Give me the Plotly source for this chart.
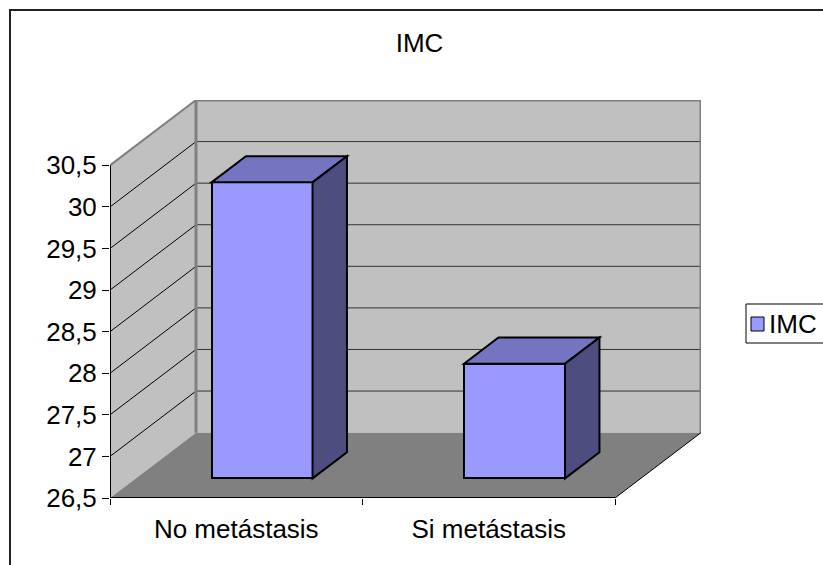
import plotly.graph_objects as go

# ---- data -------------------------------------------------------------
categories = ["No metástasis", "Si metástasis"]
imc_values = [30.06, 27.88]
series_name = "IMC"
y_tick_values = [26.5, 27, 27.5, 28, 28.5, 29, 29.5, 30, 30.5]
y_tick_labels = ["26,5", "27", "27,5", "28", "28,5", "29", "29,5", "30", "30,5"]

# ---- 3D box geometry (in axis units) ----------------------------------
Y_MIN, Y_MAX = y_tick_values[0], y_tick_values[-1]
DEPTH_X = 0.3406      # horizontal depth of the floor, in category units
DEPTH_Y = 0.786       # vertical depth of the floor, in value units
BAR_WIDTH = 0.4
BAR_FRONT = 0.3       # bar front plane, as a fraction of the depth
BAR_DEPTH = 0.4       # bar depth, as a fraction of the depth

FRONT_COLOR = "#9999FF"
TOP_COLOR = "#7474C0"
SIDE_COLOR = "#4D4D80"
WALL_COLOR = "#C0C0C0"
FLOOR_COLOR = "#808080"
FONT = dict(family="Arial, Liberation Sans, sans-serif", size=26, color="black")

W, H = 823, 565
ML, MR, MT, MB = 110, 122, 100, 67
n = len(categories)
idx = list(range(n))
x_lo, x_hi = -0.5, n - 0.5


def px_x(p):
    return (p - ML) / (W - ML - MR)


def px_y(p):
    return (H - MB - p) / (H - MT - MB)


def path(points, close=True):
    s = "M " + " L ".join(f"{x},{y}" for x, y in points)
    return s + (" Z" if close else "")


shapes = []


def poly(points, fill=None, color=None, width=0, layer="below", close=True):
    shapes.append(dict(
        type="path", xref="x", yref="y", layer=layer,
        path=path(points, close),
        fillcolor=fill if fill else "rgba(0,0,0,0)",
        line=dict(color=color if color else "rgba(0,0,0,0)", width=width),
    ))


def seg(p0, p1, color, width, layer="below"):
    shapes.append(dict(
        type="line", xref="x", yref="y", layer=layer,
        x0=p0[0], y0=p0[1], x1=p1[0], y1=p1[1],
        line=dict(color=color, width=width),
    ))


# back wall, side wall and floor
poly([(x_lo + DEPTH_X, Y_MIN + DEPTH_Y), (x_lo + DEPTH_X, Y_MAX + DEPTH_Y),
      (x_hi + DEPTH_X, Y_MAX + DEPTH_Y), (x_hi + DEPTH_X, Y_MIN + DEPTH_Y)], fill=WALL_COLOR)
poly([(x_lo, Y_MIN), (x_lo, Y_MAX), (x_lo + DEPTH_X, Y_MAX + DEPTH_Y),
      (x_lo + DEPTH_X, Y_MIN + DEPTH_Y)], fill=WALL_COLOR)
poly([(x_lo, Y_MIN), (x_hi, Y_MIN), (x_hi + DEPTH_X, Y_MIN + DEPTH_Y),
      (x_lo + DEPTH_X, Y_MIN + DEPTH_Y)], fill=FLOOR_COLOR)

# gridlines on both walls
for v in y_tick_values[1:-1]:
    seg((x_lo + DEPTH_X, v + DEPTH_Y), (x_hi + DEPTH_X, v + DEPTH_Y), "#333333", 1)
    seg((x_lo, v), (x_lo + DEPTH_X, v + DEPTH_Y), "black", 1)

# wall borders
poly([(x_lo + DEPTH_X, Y_MIN + DEPTH_Y), (x_lo + DEPTH_X, Y_MAX + DEPTH_Y),
      (x_hi + DEPTH_X, Y_MAX + DEPTH_Y), (x_hi + DEPTH_X, Y_MIN + DEPTH_Y)],
     color="#808080", width=3, close=False)
seg((x_lo, Y_MAX), (x_lo + DEPTH_X, Y_MAX + DEPTH_Y), "#808080", 2)
seg((x_hi, Y_MIN), (x_hi + DEPTH_X, Y_MIN + DEPTH_Y), "black", 1)

# front axis lines
seg((x_lo, Y_MIN), (x_lo, Y_MAX), "black", 2)
seg((x_lo, Y_MIN), (x_hi, Y_MIN), "black", 2)

# bar top and side faces
sx, sy = BAR_FRONT * DEPTH_X, BAR_FRONT * DEPTH_Y
bdx, bdy = BAR_DEPTH * DEPTH_X, BAR_DEPTH * DEPTH_Y
base = Y_MIN + sy
for i, v in zip(idx, imc_values):
    x0 = i - BAR_WIDTH / 2 + sx
    x1 = i + BAR_WIDTH / 2 + sx
    top = v + sy
    poly([(x0, top), (x1, top), (x1 + bdx, top + bdy), (x0 + bdx, top + bdy)],
         fill=TOP_COLOR, color="black", width=2, layer="above")
    poly([(x1, base), (x1, top), (x1 + bdx, top + bdy), (x1 + bdx, base + bdy)],
         fill=SIDE_COLOR, color="black", width=2, layer="above")

# legend box
shapes.append(dict(type="rect", xref="paper", yref="paper", layer="above",
                   x0=px_x(746), x1=px_x(840), y0=px_y(343), y1=px_y(304),
                   fillcolor="white", line=dict(color="black", width=1)))
shapes.append(dict(type="rect", xref="paper", yref="paper", layer="above",
                   x0=px_x(751), x1=px_x(764), y0=px_y(331), y1=px_y(317),
                   fillcolor=FRONT_COLOR, line=dict(color="black", width=1)))

# chart frame
shapes.append(dict(type="rect", xref="paper", yref="paper", layer="above",
                   x0=px_x(10), x1=px_x(850), y0=px_y(580), y1=px_y(10),
                   fillcolor="rgba(0,0,0,0)", line=dict(color="#222222", width=2)))

fig = go.Figure()
fig.add_trace(go.Bar(
    x=idx,
    y=[v - Y_MIN for v in imc_values],
    base=base,
    width=BAR_WIDTH,
    offset=-BAR_WIDTH / 2 + sx,
    name=series_name,
    marker=dict(color=FRONT_COLOR, line=dict(color="black", width=2)),
    customdata=imc_values,
    hovertemplate="%{customdata}<extra>" + series_name + "</extra>",
    showlegend=False,
))

fig.update_layout(
    width=W, height=H,
    margin=dict(l=ML, r=MR, t=MT, b=MB),
    paper_bgcolor="white", plot_bgcolor="white",
    font=FONT,
    title=dict(text="IMC", x=419.5 / W, xanchor="center",
               y=1 - 42.5 / H, yanchor="middle", font=FONT),
    xaxis=dict(
        range=[x_lo, x_hi + DEPTH_X],
        tickmode="array", tickvals=idx, ticktext=categories,
        ticks="outside", ticklen=8, tickcolor="rgba(0,0,0,0)",
        minor=dict(tickmode="array", tickvals=[x_lo + k for k in range(n + 1)],
                   ticks="outside", ticklen=6, tickcolor="black", tickwidth=1,
                   showgrid=False),
        showgrid=False, zeroline=False, showline=False, tickfont=FONT,
    ),
    yaxis=dict(
        range=[Y_MIN, Y_MAX + DEPTH_Y],
        tickmode="array", tickvals=y_tick_values, ticktext=y_tick_labels,
        ticks="outside", ticklen=7, tickcolor="black", tickwidth=1,
        showgrid=False, zeroline=False, showline=False, tickfont=FONT,
    ),
    shapes=shapes,
    annotations=[dict(text=series_name, xref="paper", yref="paper",
                      x=px_x(767), y=px_y(323.5), xanchor="left", yanchor="middle",
                      showarrow=False, font=FONT)],
    bargap=0,
)

fig.write_html("out.html")
